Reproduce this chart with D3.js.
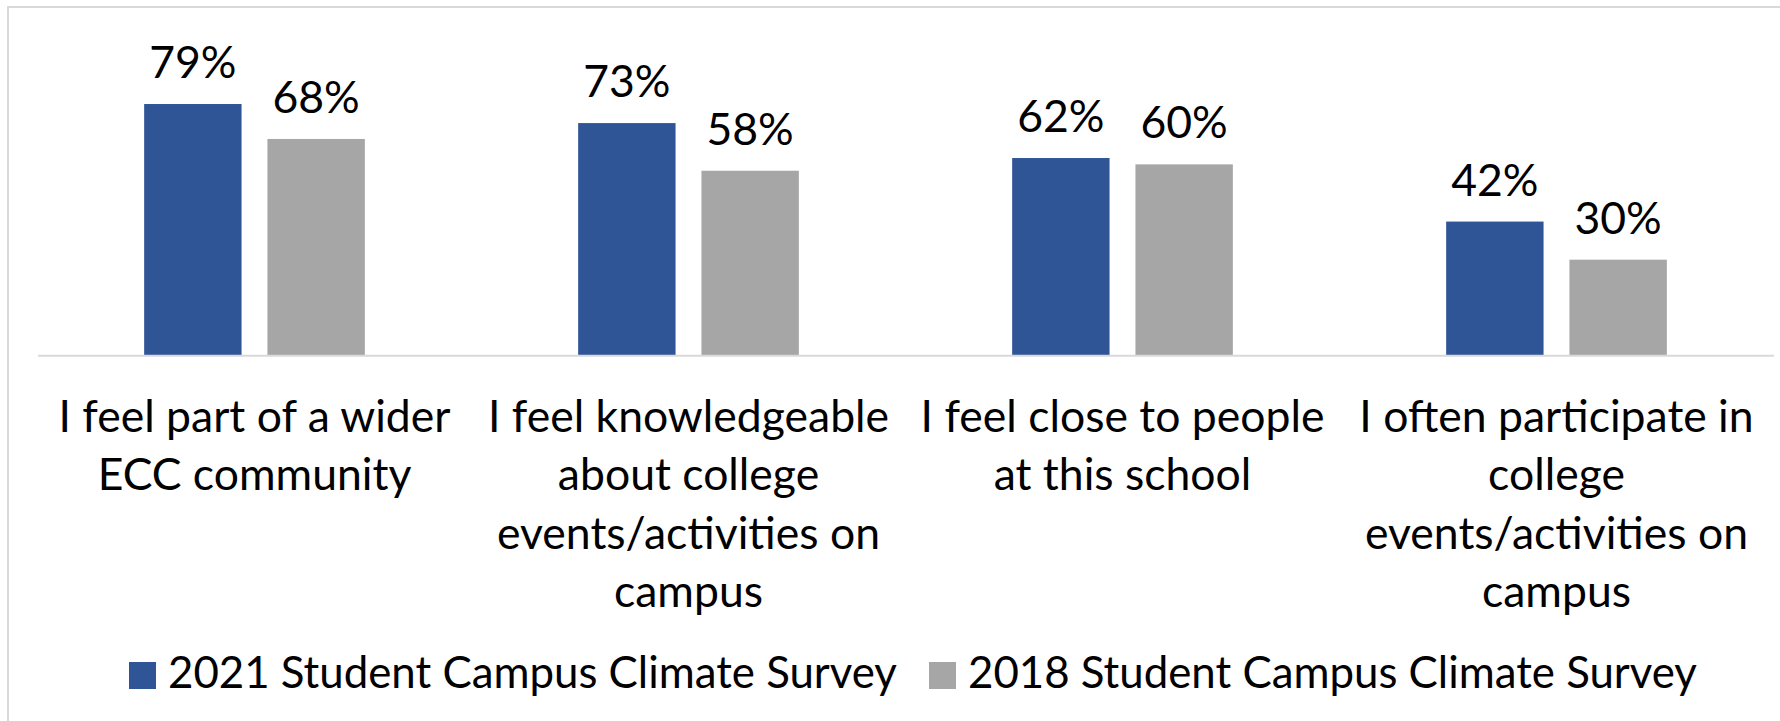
<!DOCTYPE html>
<html>
<head>
<meta charset="utf-8">
<script src="https://cdn.jsdelivr.net/npm/d3@7"></script>
<style>
  html, body { margin: 0; padding: 0; background: #ffffff; }
  svg { display: block; }
  text { font-family: Lato, "Open Sans", sans-serif; fill: #000; }
</style>
</head>
<body>
<svg id="chart" width="1780" height="721"></svg>
<script>
// ---- data ----
const categories = [
  "I feel part of a wider ECC community",
  "I feel knowledgeable about college events/activities on campus",
  "I feel close to people at this school",
  "I often participate in college events/activities on campus"
];
const categoryLines = [
  ["I feel part of a wider", "ECC community"],
  ["I feel knowledgeable", "about college", "events/activities on", "campus"],
  ["I feel close to people", "at this school"],
  ["I often participate in", "college", "events/activities on", "campus"]
];
const seriesNames = ["2021 Student Campus Climate Survey", "2018 Student Campus Climate Survey"];
const values2021 = [79, 73, 62, 42];
const values2018 = [68, 58, 60, 30];
const seriesColors = ["#2F5597", "#A6A6A6"];

// ---- layout ----
const svg = d3.select("#chart");
const valueFont = 44.5;
const catFont = 44.5;
const legendFont = 43.8;

svg.append("rect")
  .attr("x", 8).attr("y", 7)
  .attr("width", 1790).attr("height", 730)
  .attr("fill", "none").attr("stroke", "#d9d9d9").attr("stroke-width", 2);

const x0 = d3.scaleBand().domain(categories).range([37.5, 1773.5]).paddingInner(0).paddingOuter(0);
const x1 = d3.scaleBand().domain(seriesNames).range([0, x0.bandwidth()]).paddingInner(0.21).paddingOuter(0.865);
const y = d3.scaleLinear().domain([0, 100]).range([355, 37.3]);

const series = [values2021, values2018];
const rows = [];
categories.forEach((c, i) => {
  seriesNames.forEach((s, j) => rows.push({cat: c, ser: s, v: series[j][i], color: seriesColors[j]}));
});

const bars = svg.append("g");
bars.selectAll("rect").data(rows).join("rect")
  .attr("x", d => x0(d.cat) + x1(d.ser))
  .attr("y", d => y(d.v))
  .attr("width", x1.bandwidth())
  .attr("height", d => y(0) - y(d.v))
  .attr("fill", d => d.color);

bars.selectAll("text").data(rows).join("text")
  .attr("x", d => x0(d.cat) + x1(d.ser) + x1.bandwidth() / 2)
  .attr("y", d => y(d.v) - 26)
  .attr("text-anchor", "middle")
  .attr("font-size", valueFont)
  .text(d => d.v + "%");

// axis baseline
const axis = svg.append("g").attr("transform", `translate(0,${y(0) + 0.3})`)
  .call(d3.axisBottom(x0).tickSize(0).tickFormat(""));
axis.select(".domain").attr("stroke", "#d9d9d9").attr("stroke-width", 2);

// category labels
const lab = svg.append("g");
categories.forEach((c, i) => {
  const t = lab.append("text")
    .attr("x", x0(c) + x0.bandwidth() / 2)
    .attr("y", 432)
    .attr("text-anchor", "middle")
    .attr("font-size", catFont);
  categoryLines[i].forEach((ln, k) => {
    t.append("tspan").attr("x", x0(c) + x0.bandwidth() / 2)
      .attr("dy", k === 0 ? 0 : 58.3).text(ln);
  });
});

// legend
const legendX = [129, 929];
const leg = svg.append("g");
seriesNames.forEach((s, j) => {
  leg.append("rect").attr("x", legendX[j]).attr("y", 662).attr("width", 27).attr("height", 27).attr("fill", seriesColors[j]);
  leg.append("text").attr("x", legendX[j] + 39).attr("y", 688).attr("font-size", legendFont).text(s);
});
</script>
</body>
</html>
